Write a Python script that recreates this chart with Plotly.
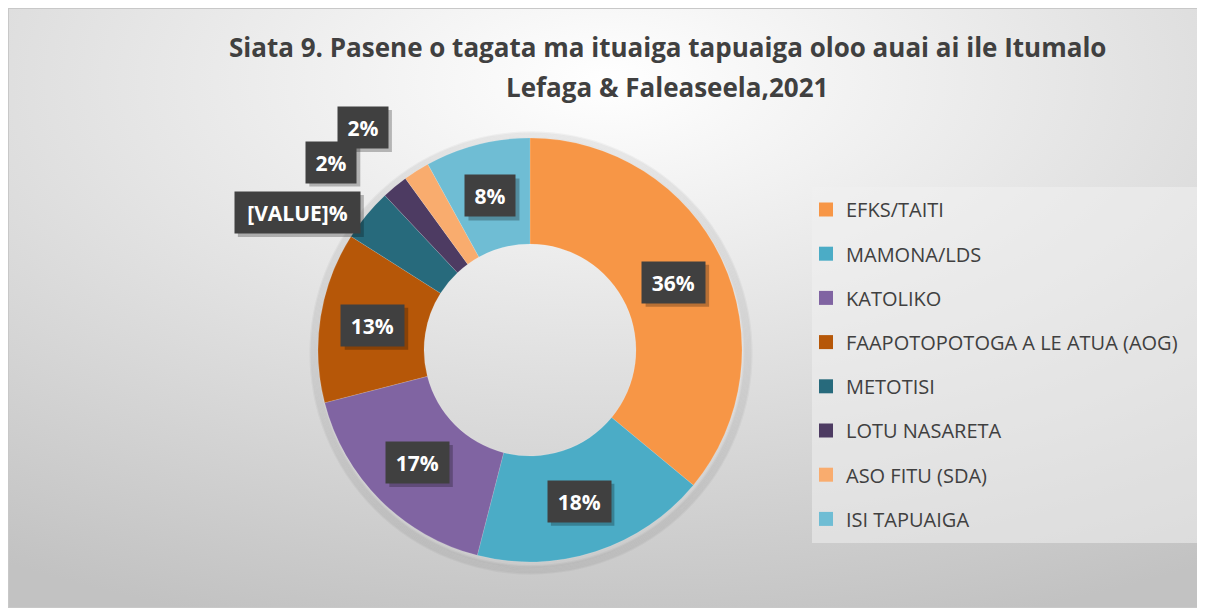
import base64
import math
import plotly.graph_objects as go

# Datos
labels = ['EFKS/TAITI', 'MAMONA/LDS', 'KATOLIKO', 'FAAPOTOPOTOGA A LE ATUA (AOG)',
          'METOTISI', 'LOTU NASARETA', 'ASO FITU (SDA)', 'ISI TAPUAIGA']
values = [36, 18, 17, 13, 4, 2, 2, 8]
value_text = ['36%', '18%', '17%', '13%', '[VALUE]%', '2%', '2%', '8%']

COLORES = ['#F79646', '#4BACC6', '#8064A2', '#B65708',
           '#276A7C', '#4D3B62', '#F9AC6E', '#6FBDD4']

# page body has an 8px margin, figure fills the rest
OFF = 8
W, H = 1197, 600
CX, CY, R_OUT, HOLE = 530, 350, 212, 0.5   # in page pixels


def px(x):
    return (x - OFF) / W


def py(y):
    return 1 - (y - OFF) / H


# label placement: (radius factor relative to ring middle, angle tweak in degrees)
LABEL_POS = {4: (1.70, -9), 5: (1.72, -7), 6: (1.75, -4.5)}

# fondo con degradado radial
svg = ('<svg xmlns="http://www.w3.org/2000/svg" width="1197" height="600">'
       '<defs><radialGradient id="g" cx="50%" cy="12%" r="95%">'
       '<stop offset="0" stop-color="#ffffff"/><stop offset="1" stop-color="#c2c2c2"/>'
       '</radialGradient></defs>'
       '<rect x="0.5" y="0.5" width="1196" height="599" fill="url(#g)" stroke="#c8c8c8"/></svg>')
bg_src = 'data:image/svg+xml;base64,' + base64.b64encode(svg.encode()).decode()

fig = go.Figure()
fig.add_trace(go.Pie(
    labels=labels, values=values, hole=HOLE, sort=False, direction='clockwise',
    rotation=0, textinfo='none', showlegend=False, hoverinfo='label+percent',
    marker=dict(colors=COLORES, line=dict(color='rgba(255,255,255,0.25)', width=0.5)),
    domain=dict(x=[px(CX - R_OUT), px(CX + R_OUT)],
                y=[py(CY + R_OUT), py(CY - R_OUT)]),
))

# legend entries as separate groups, so spacing can be set
for i, (lab, col) in enumerate(zip(labels, COLORES)):
    fig.add_trace(go.Scatter(
        x=[None], y=[None], mode='markers', name=lab, legendgroup=str(i),
        marker=dict(symbol='square', size=14, color=col), hoverinfo='skip'))

# sombra suave del anillo (solo contorno, el hueco queda limpio)
for k in range(1, 8):
    r = R_OUT + k * 1.2
    fig.add_shape(type='circle', xref='paper', yref='paper', layer='below',
                  x0=px(CX - r + 1), x1=px(CX + r + 1), y0=py(CY + r + 3), y1=py(CY - r + 3),
                  fillcolor='rgba(0,0,0,0)', line=dict(color='rgba(0,0,0,0.035)', width=2.5))

# fondo de la leyenda
fig.add_shape(type='rect', xref='paper', yref='paper', layer='below',
              x0=px(812), x1=px(1203), y0=py(543), y1=py(187),
              fillcolor='rgba(240,240,240,0.55)', line_width=0)

# etiquetas de datos
total = sum(values)
cum = 0
r_mid = R_OUT * (1 + HOLE) / 2
BOX_H, PAD = 35, 3
for i, v in enumerate(values):
    ang = (cum + v / 2) / total * 360
    cum += v
    rf, dang = LABEL_POS.get(i, (1.0, 0))
    a = math.radians(ang + dang)
    lx = CX + rf * r_mid * math.sin(a)
    ly = CY - rf * r_mid * math.cos(a)
    bw = 12.5 * len(value_text[i]) + 19
    # sombra de la caja
    hw, hh = bw / 2 + PAD, BOX_H / 2 + PAD
    fig.add_shape(type='rect', xref='paper', yref='paper', layer='above',
                  x0=px(lx - hw + 3), x1=px(lx + hw + 4), y0=py(ly + hh + 4), y1=py(ly - hh + 3),
                  fillcolor='rgba(0,0,0,0.25)', line_width=0)
    fig.add_annotation(x=px(lx), y=py(ly), xref='paper', yref='paper', showarrow=False,
                       xanchor='center', yanchor='middle', width=bw, height=BOX_H,
                       borderpad=PAD, bgcolor='#404040',
                       text='<b>' + value_text[i] + '</b>',
                       font=dict(family='Open Sans', size=21, color='white'))

# título
for txt, ty in [('Siata 9. Pasene o tagata ma ituaiga tapuaiga oloo auai ai ile Itumalo', 47),
                ('Lefaga & Faleaseela,2021', 87)]:
    fig.add_annotation(x=px(667), y=py(ty), xref='paper', yref='paper', showarrow=False,
                       xanchor='center', yanchor='middle', text='<b>' + txt + '</b>',
                       font=dict(family='Open Sans', size=26, color='#404040'))

fig.add_layout_image(dict(source=bg_src, xref='paper', yref='paper', x=0, y=1,
                          sizex=1, sizey=1, sizing='stretch',
                          xanchor='left', yanchor='top', layer='below'))

fig.update_layout(
    width=W, height=H,
    margin=dict(l=0, r=0, t=0, b=0),
    paper_bgcolor='white', plot_bgcolor='rgba(0,0,0,0)',
    xaxis=dict(visible=False), yaxis=dict(visible=False),
    legend=dict(x=px(806), y=py(190), xanchor='left', yanchor='top',
                bgcolor='rgba(0,0,0,0)', tracegroupgap=15.2,
                font=dict(family='Open Sans', size=20, color='#404040'),
                itemwidth=30),
    font=dict(family='Open Sans'),
)

fig.write_html('out.html')
